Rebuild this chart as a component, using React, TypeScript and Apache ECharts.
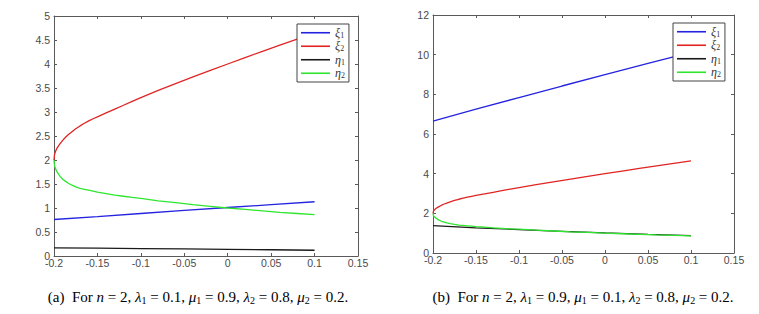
import React, { useEffect, useRef } from "react";
import * as echarts from "echarts";

// curve x values
const xCurve = [-0.2, -0.1995, -0.199, -0.198, -0.197, -0.195, -0.193, -0.19, -0.187, -0.184, -0.18, -0.175, -0.17, -0.165, -0.16, -0.155, -0.15, -0.14, -0.13, -0.12, -0.11, -0.1, -0.08, -0.06, -0.04, -0.02, 0, 0.02, 0.04, 0.06, 0.08, 0.1];
const xi2 = [2.0, 2.1, 2.14, 2.19, 2.23, 2.29, 2.34, 2.41, 2.47, 2.52, 2.58, 2.65, 2.71, 2.765, 2.815, 2.86, 2.9, 2.98, 3.06, 3.14, 3.22, 3.3, 3.45, 3.59, 3.73, 3.865, 4.0, 4.133, 4.265, 4.395, 4.52, 4.645];
const eta2 = [2.0, 1.9, 1.86, 1.81, 1.77, 1.71, 1.66, 1.6, 1.56, 1.52, 1.48, 1.44, 1.41, 1.39, 1.37, 1.35, 1.33, 1.3, 1.27, 1.245, 1.22, 1.2, 1.15, 1.11, 1.07, 1.035, 1.0, 0.97, 0.94, 0.91, 0.885, 0.86];

// near-linear x values
const xLin = [-0.2, -0.15, -0.1, -0.05, 0, 0.05, 0.1];
const aXi1 = [0.76, 0.82, 0.885, 0.95, 1.01, 1.07, 1.13];
const aEta1 = [0.17, 0.163, 0.155, 0.148, 0.14, 0.13, 0.12];
const bXi1 = [6.65, 7.25, 7.84, 8.42, 8.99, 9.56, 10.12];
const bEta1 = [1.38, 1.27, 1.18, 1.09, 1.01, 0.94, 0.88];

const seriesNames = ["xi1", "xi2", "eta1", "eta2"];
const legendLabels: Record<string, string> = {
  xi1: "{i|ξ}{s|1}",
  xi2: "{i|ξ}{s|2}",
  eta1: "{i|η}{s|1}",
  eta2: "{i|η}{s|2}",
};
const colors = ["#2424e0", "#e02424", "#1a1a1a", "#2ee62e"];

const captionA = "{n|(a)  For }{i|n}{n| = 2, }{i|λ}{s|1}{n| = 0.1, }{i|μ}{s|1}{n| = 0.9, }{i|λ}{s|2}{n| = 0.8, }{i|μ}{s|2}{n| = 0.2.}";
const captionB = "{n|(b)  For }{i|n}{n| = 2, }{i|λ}{s|1}{n| = 0.9, }{i|μ}{s|1}{n| = 0.1, }{i|λ}{s|2}{n| = 0.8, }{i|μ}{s|2}{n| = 0.2.}";

const pairs = (xs: number[], ys: number[]) => xs.map((x, i) => [x, ys[i]]);

const SERIF = "'Liberation Serif', 'Times New Roman', serif";
const SANS = "'Liberation Sans', Arial, sans-serif";
const axisColor = "#5a5a5a";
const labelStyle = { fontFamily: SANS, fontSize: 10.5, color: "#4a4a4a" };
const fmt = (v: number) => String(parseFloat(v.toFixed(2)));

function xAxes(grid: number) {
  const base = {
    gridIndex: grid,
    type: "value" as const,
    min: -0.2,
    max: 0.15,
    interval: 0.05,
    splitLine: { show: false },
    axisLine: { show: true, onZero: false, lineStyle: { color: axisColor, width: 1 } },
    axisTick: { show: true, inside: true, length: 3, lineStyle: { color: axisColor } },
  };
  return [
    { ...base, position: "bottom", axisLabel: { ...labelStyle, lineHeight: 8, margin: 3, formatter: fmt } },
    { ...base, position: "top", axisLabel: { show: false } },
  ];
}

function yAxes(grid: number, max: number, interval: number) {
  const base = {
    gridIndex: grid,
    type: "value" as const,
    min: 0,
    max,
    interval,
    splitLine: { show: false },
    axisLine: { show: true, onZero: false, lineStyle: { color: axisColor, width: 1 } },
    axisTick: { show: true, inside: true, length: 3, lineStyle: { color: axisColor } },
  };
  return [
    { ...base, position: "left", axisLabel: { ...labelStyle, lineHeight: 6, margin: 4, formatter: fmt } },
    { ...base, position: "right", axisLabel: { show: false } },
  ];
}

function line(name: string, data: number[][], xIdx: number, yIdx: number, color: string) {
  return {
    type: "line",
    name,
    data,
    xAxisIndex: xIdx,
    yAxisIndex: yIdx,
    showSymbol: false,
    symbol: "none",
    smooth: false,
    lineStyle: { color, width: 1.3 },
    itemStyle: { color },
    z: 3,
  };
}

function legend(left: number, top: number) {
  return {
    orient: "vertical",
    left,
    top,
    data: seriesNames.map((n) => ({ name: n, icon: "rect" })),
    backgroundColor: "#ffffff",
    borderColor: "#444",
    borderWidth: 1,
    padding: [2, 4, 2, 4],
    itemWidth: 29,
    itemHeight: 1.6,
    itemGap: 0,
    selectedMode: false,
    formatter: (n: string) => legendLabels[n],
    textStyle: {
      lineHeight: 13.5,
      rich: {
        i: { fontFamily: SERIF, fontStyle: "italic", fontSize: 12, color: "#333", lineHeight: 13.5 },
        s: { fontFamily: SERIF, fontSize: 8, color: "#333", padding: [5, 0, 0, 0], lineHeight: 13.5 },
      },
    },
  };
}

export default function App() {
  const ref = useRef<HTMLDivElement>(null);
  useEffect(() => {
    if (!ref.current) return;
    const chart = echarts.init(ref.current, undefined, { renderer: "svg" });
    const capRich = {
      n: { fontFamily: SERIF, fontSize: 15, color: "#111" },
      i: { fontFamily: SERIF, fontStyle: "italic", fontSize: 15, color: "#111" },
      s: { fontFamily: SERIF, fontSize: 10, color: "#111", padding: [6, 0, 0, 0] },
    };
    chart.setOption({
      animation: false,
      backgroundColor: "#ffffff",
      grid: [
        { left: 54, right: 401, top: 16, bottom: 58, containLabel: false },
        { left: 433, right: 25, top: 15, bottom: 61, containLabel: false },
      ],
      xAxis: [...xAxes(0), ...xAxes(1)],
      yAxis: [...yAxes(0, 5, 0.5), ...yAxes(1, 12, 2)],
      legend: [legend(297, 24), legend(673, 23)],
      series: [
        line("xi1", pairs(xLin, aXi1), 0, 0, colors[0]),
        line("xi2", pairs(xCurve, xi2), 0, 0, colors[1]),
        line("eta1", pairs(xLin, aEta1), 0, 0, colors[2]),
        line("eta2", pairs(xCurve, eta2), 0, 0, colors[3]),
        line("xi1", pairs(xLin, bXi1), 2, 2, colors[0]),
        line("xi2", pairs(xCurve, xi2), 2, 2, colors[1]),
        line("eta1", pairs(xLin, bEta1), 2, 2, colors[2]),
        line("eta2", pairs(xCurve, eta2), 2, 2, colors[3]),
      ],
      graphic: [
        {
          type: "text",
          x: 198,
          y: 297,
          style: { text: captionA, rich: capRich, align: "center", verticalAlign: "middle" },
        },
        {
          type: "text",
          x: 583,
          y: 297,
          style: { text: captionB, rich: capRich, align: "center", verticalAlign: "middle" },
        },
      ],
    });
    return () => chart.dispose();
  }, []);
  return <div ref={ref} style={{ position: "fixed", left: 0, top: 0, width: 759, height: 314 }} />;
}
